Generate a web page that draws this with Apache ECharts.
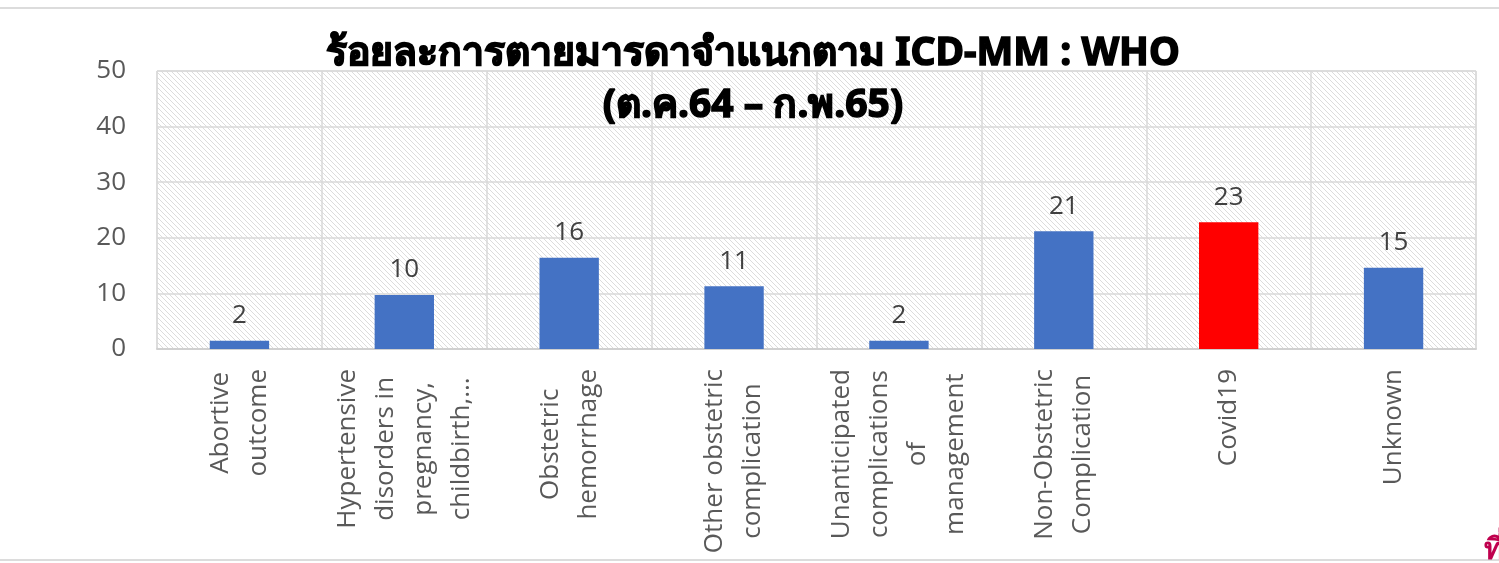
<!DOCTYPE html>
<html>
<head>
<meta charset="utf-8">
<script src="https://cdn.jsdelivr.net/npm/echarts@6/dist/echarts.min.js"></script>
<style>
  html, body { margin: 0; padding: 0; background: #fff; }
  #chart1 { width: 1499px; height: 563px; }
</style>
</head>
<body>
<div id="chart1"></div>
<script>
const categories = [
    'Abortive\noutcome',
    'Hypertensive\ndisorders in\npregnancy,\nchildbirth,...',
    'Obstetric\nhemorrhage',
    'Other obstetric\ncomplication',
    'Unanticipated\ncomplications\nof\nmanagement',
    'Non-Obstetric\nComplication',
    'Covid19',
    'Unknown'
];
const values = [1.5, 9.7, 16.4, 11.3, 1.5, 21.2, 22.8, 14.6];
const barColors = ['#4472C4', '#4472C4', '#4472C4', '#4472C4', '#4472C4', '#4472C4', '#FF0000', '#4472C4'];
const yTicks = [0, 10, 20, 30, 40, 50];

// hatch pattern for the plot background
function makeHatch() {
    const c = document.createElement('canvas');
    c.width = 5; c.height = 5;
    const ctx = c.getContext('2d');
    ctx.fillStyle = '#ffffff';
    ctx.fillRect(0, 0, 5, 5);
    ctx.fillStyle = '#dcdcdc';
    for (let i = 0; i < 5; i++) ctx.fillRect(i, i, 1, 1);
    return c;
}

const chartDom = document.getElementById('chart1');
const myChart = echarts.init(chartDom);

const option = {
    backgroundColor: '#ffffff',
    animation: false,
    title: {
        text: 'ร้อยละการตายมารดาจำแนกตาม ICD-MM : WHO\n(ต.ค.64 – ก.พ.65)',
        left: 748,
        textAlign: 'center',
        top: 23,
        textStyle: {
            fontSize: 39, fontWeight: 'bold', color: '#000', lineHeight: 52,
            textBorderColor: '#000', textBorderWidth: 1.5,
            fontFamily: 'Noto Sans, sans-serif'
        }
    },
    graphic: [
        { type: 'rect', shape: { x: 0, y: 7, width: 1499, height: 2 }, style: { fill: '#dcdcdc' }, silent: true },
        { type: 'rect', shape: { x: 0, y: 559, width: 1499, height: 2 }, style: { fill: '#dcdcdc' }, silent: true },
        { type: 'text', left: 1484, top: 536, style: { text: 'ที่', fill: '#C0004E', fontSize: 30, fontWeight: 'bold' }, silent: true }
    ],
    grid: {
        left: 157,
        right: 23,
        top: 71,
        bottom: 214,
        show: true,
        backgroundColor: { image: makeHatch(), repeat: 'repeat' },
        borderColor: '#d9d9d9',
        borderWidth: 1
    },
    xAxis: {
        type: 'category',
        data: categories,
        axisLine: { lineStyle: { color: '#d0d0d0', width: 2 } },
        axisTick: { show: false },
        splitLine: { show: true, lineStyle: { color: '#d9d9d9', width: 1.5 } },
        axisLabel: {
            rotate: 90,
            interval: 0,
            margin: 20,
            color: '#595959',
            fontSize: 26,
            fontFamily: 'Open Sans, sans-serif',
            lineHeight: 38,
            formatter: v => v.split('\n').map(s => '{c|' + s + '}').join('\n'),
            rich: { c: { align: 'center', fontSize: 26, color: '#595959', lineHeight: 38, fontFamily: 'Open Sans, sans-serif' } }
        }
    },
    yAxis: {
        type: 'value',
        min: 0,
        max: 50,
        interval: 10,
        axisLine: { show: false },
        axisTick: { show: false },
        splitLine: { lineStyle: { color: '#d9d9d9', width: 1.5 } },
        axisLabel: {
            margin: 31,
            color: '#595959',
            fontSize: 26,
            fontFamily: 'Open Sans, sans-serif',
            formatter: v => yTicks.includes(v) ? String(v) : ''
        }
    },
    series: [
        {
            type: 'bar',
            barWidth: '36%',
            data: values.map((v, i) => ({ value: v, itemStyle: { color: barColors[i] } })),
            label: {
                show: true,
                position: 'top',
                distance: 12,
                color: '#404040',
                fontSize: 26,
                fontFamily: 'Open Sans, sans-serif',
                formatter: p => Math.round(p.value)
            }
        }
    ]
};

myChart.setOption(option);
</script>
</body>
</html>
